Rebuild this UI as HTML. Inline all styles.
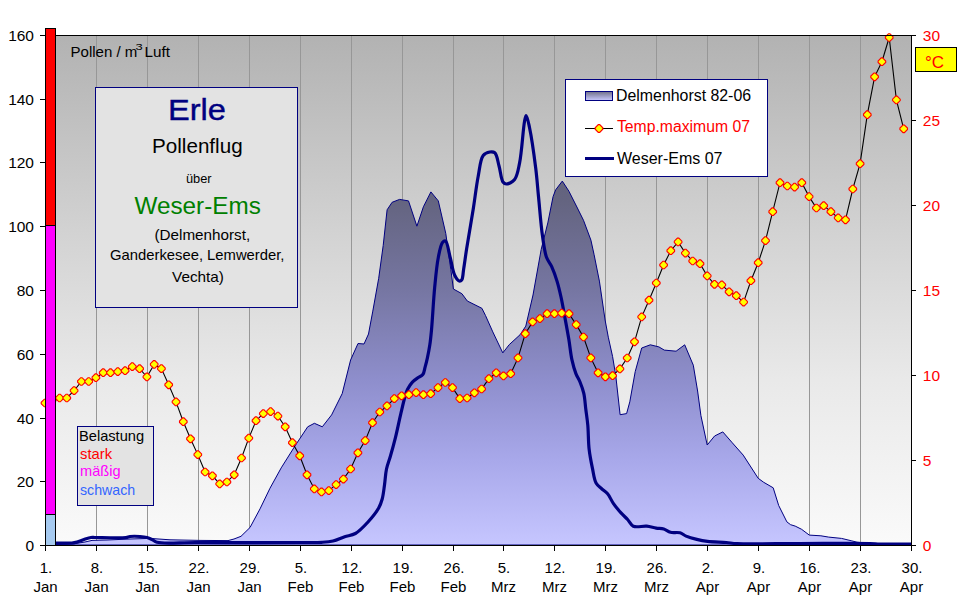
<!DOCTYPE html>
<html><head><meta charset="utf-8"><style>
html,body{margin:0;padding:0;background:#fff;width:970px;height:604px;overflow:hidden}
svg{display:block}
text{font-family:"Liberation Sans",sans-serif}
</style></head><body>
<svg width="970" height="604" viewBox="0 0 970 604" shape-rendering="crispEdges">
<defs>
<linearGradient id="bg" gradientUnits="userSpaceOnUse" x1="0" y1="35" x2="0" y2="545">
<stop offset="0" stop-color="#b2b2b2"/><stop offset="0.382" stop-color="#d2d2d2"/><stop offset="0.676" stop-color="#e9e9e9"/><stop offset="1" stop-color="#fafafa"/></linearGradient>
<linearGradient id="ar" gradientUnits="userSpaceOnUse" x1="0" y1="35" x2="0" y2="545">
<stop offset="0" stop-color="#585868"/><stop offset="0.3235" stop-color="#646480"/><stop offset="0.5" stop-color="#7676a2"/><stop offset="0.676" stop-color="#8e8ecc"/><stop offset="0.833" stop-color="#a8a8ea"/><stop offset="1" stop-color="#c6c6ff"/></linearGradient>
<linearGradient id="sw" x1="0" y1="0" x2="0" y2="1">
<stop offset="0" stop-color="#707088"/><stop offset="1" stop-color="#c8c8ff"/></linearGradient>
</defs>

<rect x="45" y="35" width="866" height="510" fill="url(#bg)"/>
<rect x="96" y="36" width="1" height="509" fill="#979797"/>
<rect x="147" y="36" width="1" height="509" fill="#979797"/>
<rect x="198" y="36" width="1" height="509" fill="#979797"/>
<rect x="249" y="36" width="1" height="509" fill="#979797"/>
<rect x="300" y="36" width="1" height="509" fill="#979797"/>
<rect x="351" y="36" width="1" height="509" fill="#979797"/>
<rect x="402" y="36" width="1" height="509" fill="#979797"/>
<rect x="453" y="36" width="1" height="509" fill="#979797"/>
<rect x="503" y="36" width="1" height="509" fill="#979797"/>
<rect x="554" y="36" width="1" height="509" fill="#979797"/>
<rect x="605" y="36" width="1" height="509" fill="#979797"/>
<rect x="656" y="36" width="1" height="509" fill="#979797"/>
<rect x="707" y="36" width="1" height="509" fill="#979797"/>
<rect x="758" y="36" width="1" height="509" fill="#979797"/>
<rect x="809" y="36" width="1" height="509" fill="#979797"/>
<rect x="860" y="36" width="1" height="509" fill="#979797"/>
<polygon points="45.0,545.0 56.0,544.5 73.0,544.0 85.0,542.0 92.0,540.4 107.0,540.0 130.0,539.0 150.0,538.4 170.0,539.8 200.0,540.4 228.0,540.6 234.0,539.0 241.0,536.3 250.0,527.5 260.0,508.9 270.0,488.2 281.2,467.9 294.5,446.7 307.7,426.8 314.4,423.3 322.3,426.8 331.6,414.9 342.2,393.6 350.6,360.0 358.0,343.5 364.0,344.0 368.5,334.0 372.8,311.1 378.7,278.3 383.2,245.5 387.1,209.8 392.1,202.3 399.6,199.4 408.5,200.9 416.9,226.2 423.4,206.8 430.9,191.9 438.3,200.9 445.8,233.6 450.8,269.4 453.4,289.0 461.9,293.7 467.3,301.0 481.9,308.3 485.5,315.5 492.8,331.9 502.8,352.9 509.2,344.7 520.1,334.7 525.8,326.1 533.0,295.0 541.2,249.4 547.8,222.9 553.1,196.5 555.7,189.8 562.3,181.1 568.9,191.2 576.9,207.0 583.5,220.3 590.9,240.1 594.1,254.7 599.4,281.1 605.1,320.0 608.3,337.2 612.6,356.6 615.8,376.0 620.1,414.7 626.6,413.6 629.8,401.8 635.2,371.7 641.7,348.0 650.3,344.8 658.9,346.9 664.3,350.1 676.1,351.2 684.7,344.8 693.3,365.2 697.6,391.0 700.9,415.5 707.2,445.0 714.6,436.0 722.8,431.9 732.3,442.8 743.2,455.1 758.2,478.3 763.7,482.3 773.2,487.8 778.7,505.5 786.9,521.9 790.6,524.7 795.2,526.1 801.6,529.3 809.3,535.1 820.9,535.8 828.7,537.1 841.5,538.4 851.9,540.9 857.0,542.2 870.0,543.5 890.0,544.0 911.0,545.0 911,545 45,545" fill="url(#ar)" stroke="#000080" stroke-width="1" shape-rendering="geometricPrecision"/>
<rect x="95.5" y="87.5" width="202" height="220" fill="#e3e3e3" stroke="#000080" stroke-width="1"/>
<text x="168.00" y="119.80" font-size="30" stroke="#000080" stroke-width="0.4" fill="#000080" textLength="57.96" lengthAdjust="spacingAndGlyphs">Erle</text>
<text x="152.00" y="152.90" font-size="20.5" fill="#000" textLength="90.65" lengthAdjust="spacingAndGlyphs">Pollenflug</text>
<text x="186.00" y="183.00" font-size="12" fill="#000" textLength="25.63" lengthAdjust="spacingAndGlyphs">über</text>
<text x="134.50" y="213.60" font-size="23.5" fill="#008000" textLength="126.30" lengthAdjust="spacingAndGlyphs">Weser-Ems</text>
<text x="154.50" y="240.00" font-size="14.5" fill="#000" textLength="95.66" lengthAdjust="spacingAndGlyphs">(Delmenhorst,</text>
<text x="110.00" y="259.70" font-size="14.5" fill="#000" textLength="174.48" lengthAdjust="spacingAndGlyphs">Ganderkesee, Lemwerder,</text>
<text x="172.00" y="281.70" font-size="14.5" fill="#000" textLength="51.97" lengthAdjust="spacingAndGlyphs">Vechta)</text>
<text x="70.50" y="56.80" font-size="14.5" fill="#000" textLength="66.88" lengthAdjust="spacingAndGlyphs">Pollen / m</text>
<text x="135.50" y="49.80" font-size="9" fill="#000" textLength="7.22" lengthAdjust="spacingAndGlyphs">3</text>
<text x="144.50" y="56.80" font-size="14.5" fill="#000" textLength="25.39" lengthAdjust="spacingAndGlyphs">Luft</text>
<rect x="77.5" y="426.5" width="76" height="79" fill="#e3e3e3" stroke="#000080" stroke-width="1"/>
<text x="79.00" y="440.80" font-size="14.5" fill="#000" textLength="65.10" lengthAdjust="spacingAndGlyphs">Belastung</text>
<text x="80.00" y="458.80" font-size="14.5" fill="#ff0000" textLength="32.02" lengthAdjust="spacingAndGlyphs">stark</text>
<text x="80.00" y="476.30" font-size="14.5" fill="#ff00ff" textLength="40.50" lengthAdjust="spacingAndGlyphs">mäßig</text>
<text x="80.00" y="494.50" font-size="14.5" fill="#3366ff" textLength="55.22" lengthAdjust="spacingAndGlyphs">schwach</text>
<rect x="565.5" y="79.5" width="202" height="97" fill="#fff" stroke="#000080" stroke-width="1"/>
<rect x="585.5" y="91.5" width="27" height="9" fill="url(#sw)" stroke="#000080" stroke-width="1"/>
<text x="616.00" y="100.70" font-size="16" fill="#000" textLength="135.08" lengthAdjust="spacingAndGlyphs">Delmenhorst 82-06</text>
<rect x="585" y="128" width="28" height="1" fill="#000"/>
<g fill="#ffff00" stroke="#ff0000" stroke-width="1.2" shape-rendering="geometricPrecision"><polygon points="598.3,124.7 599.7,124.7 602.8,127.8 602.8,129.2 599.7,132.3 598.3,132.3 595.2,129.2 595.2,127.8"/></g>
<text x="617.00" y="132.30" font-size="16" fill="#ff0000" textLength="132.96" lengthAdjust="spacingAndGlyphs">Temp.maximum 07</text>
<rect x="585" y="156.5" width="29" height="3" fill="#000080"/>
<text x="617.00" y="163.80" font-size="16" fill="#000" textLength="105.52" lengthAdjust="spacingAndGlyphs">Weser-Ems 07</text>
<path d="M45.0,543.0 C48.67,543.00 51.99,543.00 56.00,543.00 C60.84,543.00 68.19,543.38 72.00,543.00 C74.15,542.79 75.21,542.50 77.00,542.00 C79.16,541.40 81.65,540.25 84.00,539.50 C86.32,538.75 88.97,537.78 91.00,537.50 C92.50,537.29 93.04,537.50 95.00,537.50 C100.46,537.50 120.56,538.17 126.00,537.50 C127.98,537.26 128.35,536.70 130.00,536.50 C132.57,536.18 136.97,536.28 140.00,536.50 C142.55,536.68 144.89,536.94 147.00,537.50 C148.84,537.99 150.36,538.72 152.00,539.50 C153.69,540.31 154.41,541.62 157.00,542.30 C163.75,544.08 179.87,542.46 196.00,542.50 C222.33,542.57 278.16,542.60 300.00,542.50 C310.05,542.45 315.93,542.68 322.00,542.30 C326.30,542.03 329.33,541.86 333.00,541.00 C336.89,540.08 340.87,538.08 344.70,536.80 C348.33,535.59 351.91,535.50 355.40,533.50 C359.71,531.03 364.14,526.21 368.00,522.00 C371.92,517.72 376.28,512.31 378.70,508.00 C380.49,504.81 381.27,502.38 382.20,499.00 C383.32,494.90 383.80,489.83 384.50,485.00 C385.24,479.85 385.44,473.96 386.50,469.00 C387.45,464.53 388.97,461.12 390.30,456.50 C391.94,450.80 393.81,444.11 395.50,437.30 C397.39,429.65 399.25,420.19 401.00,412.80 C402.46,406.66 403.87,400.35 405.20,396.00 C406.06,393.17 406.56,391.34 407.70,389.10 C408.92,386.70 410.58,384.07 412.40,382.10 C414.11,380.25 416.34,378.81 418.20,377.50 C419.79,376.37 421.67,376.07 422.80,374.60 C424.15,372.83 424.37,369.74 425.10,367.10 C425.91,364.18 426.67,361.15 427.40,357.80 C428.25,353.91 429.13,349.53 429.80,345.10 C430.52,340.30 430.91,336.32 431.50,330.00 C432.49,319.37 433.43,300.15 434.70,287.20 C435.76,276.38 436.67,265.67 438.30,257.50 C439.48,251.60 440.58,244.82 442.50,242.50 C443.39,241.42 444.59,240.60 445.50,241.00 C447.55,241.90 448.69,251.88 450.20,257.50 C451.76,263.31 452.66,271.15 454.70,275.30 C455.99,277.91 457.78,280.62 459.20,281.00 C460.06,281.23 461.04,280.81 461.70,280.00 C463.02,278.38 462.93,273.51 463.60,269.40 C464.53,263.71 465.36,256.91 466.60,249.00 C468.33,237.94 471.19,221.94 473.20,209.30 C475.03,197.77 476.30,185.91 478.20,176.20 C479.72,168.46 480.25,159.30 483.20,155.50 C484.95,153.25 487.70,152.35 489.80,152.00 C491.53,151.71 493.44,151.63 494.80,152.80 C497.07,154.75 497.77,161.53 499.10,166.20 C500.53,171.23 501.03,179.36 503.00,182.00 C503.97,183.30 505.01,183.98 506.40,184.00 C508.53,184.03 512.51,182.09 514.60,179.50 C517.45,175.98 518.17,169.77 519.60,162.90 C521.84,152.18 523.09,128.40 524.60,121.00 C525.16,118.27 525.58,115.50 526.20,115.50 C527.11,115.51 528.39,122.28 529.50,127.50 C531.52,136.98 534.15,155.66 535.70,168.00 C537.00,178.31 537.48,186.22 538.50,196.50 C539.71,208.62 540.89,224.97 542.50,236.10 C543.68,244.29 544.50,251.79 546.50,257.30 C547.90,261.17 550.09,263.08 551.70,266.60 C553.64,270.83 555.47,276.11 557.00,281.10 C558.58,286.24 559.75,291.31 561.00,297.00 C562.44,303.52 563.69,311.01 565.00,318.10 C566.33,325.28 567.73,332.72 568.90,339.80 C570.02,346.57 570.59,353.70 571.90,359.70 C573.01,364.79 574.38,369.67 575.90,373.60 C577.09,376.66 578.58,378.55 579.80,381.50 C581.25,385.02 582.82,389.09 583.80,393.40 C584.91,398.27 585.13,404.00 585.80,409.30 C586.47,414.60 587.27,419.36 587.80,425.20 C588.44,432.33 588.25,441.53 589.10,449.00 C589.86,455.74 591.14,462.12 592.40,468.10 C593.54,473.48 594.13,479.64 596.20,483.30 C597.69,485.92 599.96,487.22 601.90,489.00 C603.76,490.71 605.85,491.75 607.60,493.80 C609.73,496.30 611.14,500.20 613.30,503.30 C615.58,506.57 618.45,510.06 621.00,512.90 C623.22,515.37 625.52,517.25 627.60,519.50 C629.62,521.69 630.63,524.97 633.30,526.20 C636.59,527.72 642.63,525.80 646.70,526.20 C650.16,526.54 653.20,527.62 656.20,528.10 C658.87,528.52 661.40,528.29 663.80,529.00 C666.17,529.70 668.00,531.65 670.50,532.30 C673.32,533.04 677.26,532.03 680.00,532.80 C682.34,533.46 683.73,535.10 686.10,536.10 C689.12,537.37 693.21,538.51 696.80,539.40 C700.34,540.27 703.42,540.90 707.50,541.40 C712.87,542.06 720.91,542.07 726.30,542.50 C730.37,542.83 731.94,543.34 737.00,543.60 C749.25,544.22 778.45,543.52 800.00,543.50 C822.72,543.48 857.20,543.18 870.00,543.50 C874.84,543.62 875.75,543.89 880.00,544.00 C887.48,544.19 900.67,544.00 911.00,544.00" fill="none" stroke="#000080" stroke-width="3.2" stroke-linejoin="round" shape-rendering="geometricPrecision"/>
<polyline points="45.0,403.0 52.3,400.0 59.6,398.0 66.8,398.0 74.1,390.6 81.4,381.5 88.7,381.5 95.9,377.7 103.2,372.7 110.5,372.7 117.8,371.6 125.1,370.7 132.3,366.6 139.6,368.7 146.9,376.9 154.2,364.4 161.4,368.6 168.7,384.8 176.0,401.9 183.3,421.7 190.5,438.8 197.8,454.6 205.1,472.0 212.4,475.8 219.7,483.9 226.9,482.0 234.2,474.8 241.5,458.0 248.8,438.1 256.0,420.7 263.3,413.6 270.6,411.6 277.9,416.1 285.2,426.8 292.4,442.7 299.7,455.8 307.0,474.8 314.3,488.9 321.5,491.9 328.8,490.6 336.1,484.6 343.4,479.1 350.6,469.0 357.9,452.8 365.2,440.6 372.5,422.7 379.8,412.0 387.0,405.9 394.3,398.6 401.6,395.8 408.9,394.7 416.1,392.6 423.4,394.7 430.7,393.7 438.0,387.6 445.3,382.5 452.5,387.6 459.8,398.6 467.1,398.0 474.4,392.8 481.6,389.0 488.9,378.7 496.2,372.8 503.5,375.9 510.7,373.7 518.0,357.9 525.3,333.7 532.6,321.9 539.9,318.6 547.1,313.7 554.4,313.7 561.7,313.1 569.0,313.7 576.2,324.6 583.5,337.0 590.8,357.9 598.1,372.8 605.4,376.8 612.6,375.7 619.9,368.9 627.2,358.0 634.5,341.8 641.7,316.9 649.0,300.2 656.3,283.0 663.6,265.0 670.8,250.7 678.1,241.9 685.4,253.1 692.7,261.0 700.0,263.7 707.2,275.9 714.5,284.3 721.8,284.9 729.1,291.8 736.3,295.7 743.6,302.1 750.9,280.7 758.2,262.7 765.5,240.6 772.7,211.7 780.0,182.7 787.3,186.0 794.6,187.1 801.8,182.7 809.1,196.6 816.4,208.0 823.7,205.7 830.9,211.7 838.2,217.9 845.5,219.8 852.8,189.0 860.1,163.7 867.3,114.7 874.6,76.8 881.9,61.7 889.2,37.5 896.4,99.9 903.7,128.8" fill="none" stroke="#000" stroke-width="1.1" shape-rendering="geometricPrecision"/>
<g fill="#ffff00" stroke="#ff0000" stroke-width="1.1" shape-rendering="geometricPrecision"><polygon points="44.3,399.2 45.7,399.2 48.8,402.3 48.8,403.7 45.7,406.8 44.3,406.8 41.2,403.7 41.2,402.3"/><polygon points="51.6,396.2 53.0,396.2 56.1,399.3 56.1,400.7 53.0,403.8 51.6,403.8 48.5,400.7 48.5,399.3"/><polygon points="58.9,394.2 60.3,394.2 63.4,397.3 63.4,398.7 60.3,401.8 58.9,401.8 55.8,398.7 55.8,397.3"/><polygon points="66.1,394.2 67.5,394.2 70.6,397.3 70.6,398.7 67.5,401.8 66.1,401.8 63.0,398.7 63.0,397.3"/><polygon points="73.4,386.8 74.8,386.8 77.9,389.9 77.9,391.3 74.8,394.4 73.4,394.4 70.3,391.3 70.3,389.9"/><polygon points="80.7,377.7 82.1,377.7 85.2,380.8 85.2,382.2 82.1,385.3 80.7,385.3 77.6,382.2 77.6,380.8"/><polygon points="88.0,377.7 89.4,377.7 92.5,380.8 92.5,382.2 89.4,385.3 88.0,385.3 84.9,382.2 84.9,380.8"/><polygon points="95.2,373.9 96.6,373.9 99.7,377.0 99.7,378.4 96.6,381.5 95.2,381.5 92.1,378.4 92.1,377.0"/><polygon points="102.5,368.9 103.9,368.9 107.0,372.0 107.0,373.4 103.9,376.5 102.5,376.5 99.4,373.4 99.4,372.0"/><polygon points="109.8,368.9 111.2,368.9 114.3,372.0 114.3,373.4 111.2,376.5 109.8,376.5 106.7,373.4 106.7,372.0"/><polygon points="117.1,367.8 118.5,367.8 121.6,370.9 121.6,372.3 118.5,375.4 117.1,375.4 114.0,372.3 114.0,370.9"/><polygon points="124.4,366.9 125.8,366.9 128.9,370.0 128.9,371.4 125.8,374.5 124.4,374.5 121.3,371.4 121.3,370.0"/><polygon points="131.6,362.8 133.0,362.8 136.1,365.9 136.1,367.3 133.0,370.4 131.6,370.4 128.5,367.3 128.5,365.9"/><polygon points="138.9,364.9 140.3,364.9 143.4,368.0 143.4,369.4 140.3,372.5 138.9,372.5 135.8,369.4 135.8,368.0"/><polygon points="146.2,373.1 147.6,373.1 150.7,376.2 150.7,377.6 147.6,380.7 146.2,380.7 143.1,377.6 143.1,376.2"/><polygon points="153.5,360.6 154.9,360.6 158.0,363.7 158.0,365.1 154.9,368.2 153.5,368.2 150.4,365.1 150.4,363.7"/><polygon points="160.7,364.8 162.1,364.8 165.2,367.9 165.2,369.3 162.1,372.4 160.7,372.4 157.6,369.3 157.6,367.9"/><polygon points="168.0,381.0 169.4,381.0 172.5,384.1 172.5,385.5 169.4,388.6 168.0,388.6 164.9,385.5 164.9,384.1"/><polygon points="175.3,398.1 176.7,398.1 179.8,401.2 179.8,402.6 176.7,405.7 175.3,405.7 172.2,402.6 172.2,401.2"/><polygon points="182.6,417.9 184.0,417.9 187.1,421.0 187.1,422.4 184.0,425.5 182.6,425.5 179.5,422.4 179.5,421.0"/><polygon points="189.8,435.0 191.2,435.0 194.3,438.1 194.3,439.5 191.2,442.6 189.8,442.6 186.7,439.5 186.7,438.1"/><polygon points="197.1,450.8 198.5,450.8 201.6,453.9 201.6,455.3 198.5,458.4 197.1,458.4 194.0,455.3 194.0,453.9"/><polygon points="204.4,468.2 205.8,468.2 208.9,471.3 208.9,472.7 205.8,475.8 204.4,475.8 201.3,472.7 201.3,471.3"/><polygon points="211.7,472.0 213.1,472.0 216.2,475.1 216.2,476.5 213.1,479.6 211.7,479.6 208.6,476.5 208.6,475.1"/><polygon points="219.0,480.1 220.4,480.1 223.5,483.2 223.5,484.6 220.4,487.7 219.0,487.7 215.9,484.6 215.9,483.2"/><polygon points="226.2,478.2 227.6,478.2 230.7,481.3 230.7,482.7 227.6,485.8 226.2,485.8 223.1,482.7 223.1,481.3"/><polygon points="233.5,471.0 234.9,471.0 238.0,474.1 238.0,475.5 234.9,478.6 233.5,478.6 230.4,475.5 230.4,474.1"/><polygon points="240.8,454.2 242.2,454.2 245.3,457.3 245.3,458.7 242.2,461.8 240.8,461.8 237.7,458.7 237.7,457.3"/><polygon points="248.1,434.3 249.5,434.3 252.6,437.4 252.6,438.8 249.5,441.9 248.1,441.9 245.0,438.8 245.0,437.4"/><polygon points="255.3,416.9 256.7,416.9 259.8,420.0 259.8,421.4 256.7,424.5 255.3,424.5 252.2,421.4 252.2,420.0"/><polygon points="262.6,409.8 264.0,409.8 267.1,412.9 267.1,414.3 264.0,417.4 262.6,417.4 259.5,414.3 259.5,412.9"/><polygon points="269.9,407.8 271.3,407.8 274.4,410.9 274.4,412.3 271.3,415.4 269.9,415.4 266.8,412.3 266.8,410.9"/><polygon points="277.2,412.3 278.6,412.3 281.7,415.4 281.7,416.8 278.6,419.9 277.2,419.9 274.1,416.8 274.1,415.4"/><polygon points="284.5,423.0 285.9,423.0 289.0,426.1 289.0,427.5 285.9,430.6 284.5,430.6 281.4,427.5 281.4,426.1"/><polygon points="291.7,438.9 293.1,438.9 296.2,442.0 296.2,443.4 293.1,446.5 291.7,446.5 288.6,443.4 288.6,442.0"/><polygon points="299.0,452.0 300.4,452.0 303.5,455.1 303.5,456.5 300.4,459.6 299.0,459.6 295.9,456.5 295.9,455.1"/><polygon points="306.3,471.0 307.7,471.0 310.8,474.1 310.8,475.5 307.7,478.6 306.3,478.6 303.2,475.5 303.2,474.1"/><polygon points="313.6,485.1 315.0,485.1 318.1,488.2 318.1,489.6 315.0,492.7 313.6,492.7 310.5,489.6 310.5,488.2"/><polygon points="320.8,488.1 322.2,488.1 325.3,491.2 325.3,492.6 322.2,495.7 320.8,495.7 317.7,492.6 317.7,491.2"/><polygon points="328.1,486.8 329.5,486.8 332.6,489.9 332.6,491.3 329.5,494.4 328.1,494.4 325.0,491.3 325.0,489.9"/><polygon points="335.4,480.8 336.8,480.8 339.9,483.9 339.9,485.3 336.8,488.4 335.4,488.4 332.3,485.3 332.3,483.9"/><polygon points="342.7,475.3 344.1,475.3 347.2,478.4 347.2,479.8 344.1,482.9 342.7,482.9 339.6,479.8 339.6,478.4"/><polygon points="349.9,465.2 351.3,465.2 354.4,468.3 354.4,469.7 351.3,472.8 349.9,472.8 346.8,469.7 346.8,468.3"/><polygon points="357.2,449.0 358.6,449.0 361.7,452.1 361.7,453.5 358.6,456.6 357.2,456.6 354.1,453.5 354.1,452.1"/><polygon points="364.5,436.8 365.9,436.8 369.0,439.9 369.0,441.3 365.9,444.4 364.5,444.4 361.4,441.3 361.4,439.9"/><polygon points="371.8,418.9 373.2,418.9 376.3,422.0 376.3,423.4 373.2,426.5 371.8,426.5 368.7,423.4 368.7,422.0"/><polygon points="379.1,408.2 380.5,408.2 383.6,411.3 383.6,412.7 380.5,415.8 379.1,415.8 376.0,412.7 376.0,411.3"/><polygon points="386.3,402.1 387.7,402.1 390.8,405.2 390.8,406.6 387.7,409.7 386.3,409.7 383.2,406.6 383.2,405.2"/><polygon points="393.6,394.8 395.0,394.8 398.1,397.9 398.1,399.3 395.0,402.4 393.6,402.4 390.5,399.3 390.5,397.9"/><polygon points="400.9,392.0 402.3,392.0 405.4,395.1 405.4,396.5 402.3,399.6 400.9,399.6 397.8,396.5 397.8,395.1"/><polygon points="408.2,390.9 409.6,390.9 412.7,394.0 412.7,395.4 409.6,398.5 408.2,398.5 405.1,395.4 405.1,394.0"/><polygon points="415.4,388.8 416.8,388.8 419.9,391.9 419.9,393.3 416.8,396.4 415.4,396.4 412.3,393.3 412.3,391.9"/><polygon points="422.7,390.9 424.1,390.9 427.2,394.0 427.2,395.4 424.1,398.5 422.7,398.5 419.6,395.4 419.6,394.0"/><polygon points="430.0,389.9 431.4,389.9 434.5,393.0 434.5,394.4 431.4,397.5 430.0,397.5 426.9,394.4 426.9,393.0"/><polygon points="437.3,383.8 438.7,383.8 441.8,386.9 441.8,388.3 438.7,391.4 437.3,391.4 434.2,388.3 434.2,386.9"/><polygon points="444.6,378.7 446.0,378.7 449.1,381.8 449.1,383.2 446.0,386.3 444.6,386.3 441.5,383.2 441.5,381.8"/><polygon points="451.8,383.8 453.2,383.8 456.3,386.9 456.3,388.3 453.2,391.4 451.8,391.4 448.7,388.3 448.7,386.9"/><polygon points="459.1,394.8 460.5,394.8 463.6,397.9 463.6,399.3 460.5,402.4 459.1,402.4 456.0,399.3 456.0,397.9"/><polygon points="466.4,394.2 467.8,394.2 470.9,397.3 470.9,398.7 467.8,401.8 466.4,401.8 463.3,398.7 463.3,397.3"/><polygon points="473.7,389.0 475.1,389.0 478.2,392.1 478.2,393.5 475.1,396.6 473.7,396.6 470.6,393.5 470.6,392.1"/><polygon points="480.9,385.2 482.3,385.2 485.4,388.3 485.4,389.7 482.3,392.8 480.9,392.8 477.8,389.7 477.8,388.3"/><polygon points="488.2,374.9 489.6,374.9 492.7,378.0 492.7,379.4 489.6,382.5 488.2,382.5 485.1,379.4 485.1,378.0"/><polygon points="495.5,369.0 496.9,369.0 500.0,372.1 500.0,373.5 496.9,376.6 495.5,376.6 492.4,373.5 492.4,372.1"/><polygon points="502.8,372.1 504.2,372.1 507.3,375.2 507.3,376.6 504.2,379.7 502.8,379.7 499.7,376.6 499.7,375.2"/><polygon points="510.0,369.9 511.4,369.9 514.5,373.0 514.5,374.4 511.4,377.5 510.0,377.5 506.9,374.4 506.9,373.0"/><polygon points="517.3,354.1 518.7,354.1 521.8,357.2 521.8,358.6 518.7,361.7 517.3,361.7 514.2,358.6 514.2,357.2"/><polygon points="524.6,329.9 526.0,329.9 529.1,333.0 529.1,334.4 526.0,337.5 524.6,337.5 521.5,334.4 521.5,333.0"/><polygon points="531.9,318.1 533.3,318.1 536.4,321.2 536.4,322.6 533.3,325.7 531.9,325.7 528.8,322.6 528.8,321.2"/><polygon points="539.2,314.8 540.6,314.8 543.7,317.9 543.7,319.3 540.6,322.4 539.2,322.4 536.1,319.3 536.1,317.9"/><polygon points="546.4,309.9 547.8,309.9 550.9,313.0 550.9,314.4 547.8,317.5 546.4,317.5 543.3,314.4 543.3,313.0"/><polygon points="553.7,309.9 555.1,309.9 558.2,313.0 558.2,314.4 555.1,317.5 553.7,317.5 550.6,314.4 550.6,313.0"/><polygon points="561.0,309.3 562.4,309.3 565.5,312.4 565.5,313.8 562.4,316.9 561.0,316.9 557.9,313.8 557.9,312.4"/><polygon points="568.3,309.9 569.7,309.9 572.8,313.0 572.8,314.4 569.7,317.5 568.3,317.5 565.2,314.4 565.2,313.0"/><polygon points="575.5,320.8 576.9,320.8 580.0,323.9 580.0,325.3 576.9,328.4 575.5,328.4 572.4,325.3 572.4,323.9"/><polygon points="582.8,333.2 584.2,333.2 587.3,336.3 587.3,337.7 584.2,340.8 582.8,340.8 579.7,337.7 579.7,336.3"/><polygon points="590.1,354.1 591.5,354.1 594.6,357.2 594.6,358.6 591.5,361.7 590.1,361.7 587.0,358.6 587.0,357.2"/><polygon points="597.4,369.0 598.8,369.0 601.9,372.1 601.9,373.5 598.8,376.6 597.4,376.6 594.3,373.5 594.3,372.1"/><polygon points="604.7,373.0 606.1,373.0 609.2,376.1 609.2,377.5 606.1,380.6 604.7,380.6 601.6,377.5 601.6,376.1"/><polygon points="611.9,371.9 613.3,371.9 616.4,375.0 616.4,376.4 613.3,379.5 611.9,379.5 608.8,376.4 608.8,375.0"/><polygon points="619.2,365.1 620.6,365.1 623.7,368.2 623.7,369.6 620.6,372.7 619.2,372.7 616.1,369.6 616.1,368.2"/><polygon points="626.5,354.2 627.9,354.2 631.0,357.3 631.0,358.7 627.9,361.8 626.5,361.8 623.4,358.7 623.4,357.3"/><polygon points="633.8,338.0 635.2,338.0 638.3,341.1 638.3,342.5 635.2,345.6 633.8,345.6 630.7,342.5 630.7,341.1"/><polygon points="641.0,313.1 642.4,313.1 645.5,316.2 645.5,317.6 642.4,320.7 641.0,320.7 637.9,317.6 637.9,316.2"/><polygon points="648.3,296.4 649.7,296.4 652.8,299.5 652.8,300.9 649.7,304.0 648.3,304.0 645.2,300.9 645.2,299.5"/><polygon points="655.6,279.2 657.0,279.2 660.1,282.3 660.1,283.7 657.0,286.8 655.6,286.8 652.5,283.7 652.5,282.3"/><polygon points="662.9,261.2 664.3,261.2 667.4,264.3 667.4,265.7 664.3,268.8 662.9,268.8 659.8,265.7 659.8,264.3"/><polygon points="670.1,246.9 671.5,246.9 674.6,250.0 674.6,251.4 671.5,254.5 670.1,254.5 667.0,251.4 667.0,250.0"/><polygon points="677.4,238.1 678.8,238.1 681.9,241.2 681.9,242.6 678.8,245.7 677.4,245.7 674.3,242.6 674.3,241.2"/><polygon points="684.7,249.3 686.1,249.3 689.2,252.4 689.2,253.8 686.1,256.9 684.7,256.9 681.6,253.8 681.6,252.4"/><polygon points="692.0,257.2 693.4,257.2 696.5,260.3 696.5,261.7 693.4,264.8 692.0,264.8 688.9,261.7 688.9,260.3"/><polygon points="699.3,259.9 700.7,259.9 703.8,263.0 703.8,264.4 700.7,267.5 699.3,267.5 696.2,264.4 696.2,263.0"/><polygon points="706.5,272.1 707.9,272.1 711.0,275.2 711.0,276.6 707.9,279.7 706.5,279.7 703.4,276.6 703.4,275.2"/><polygon points="713.8,280.5 715.2,280.5 718.3,283.6 718.3,285.0 715.2,288.1 713.8,288.1 710.7,285.0 710.7,283.6"/><polygon points="721.1,281.1 722.5,281.1 725.6,284.2 725.6,285.6 722.5,288.7 721.1,288.7 718.0,285.6 718.0,284.2"/><polygon points="728.4,288.0 729.8,288.0 732.9,291.1 732.9,292.5 729.8,295.6 728.4,295.6 725.3,292.5 725.3,291.1"/><polygon points="735.6,291.9 737.0,291.9 740.1,295.0 740.1,296.4 737.0,299.5 735.6,299.5 732.5,296.4 732.5,295.0"/><polygon points="742.9,298.3 744.3,298.3 747.4,301.4 747.4,302.8 744.3,305.9 742.9,305.9 739.8,302.8 739.8,301.4"/><polygon points="750.2,276.9 751.6,276.9 754.7,280.0 754.7,281.4 751.6,284.5 750.2,284.5 747.1,281.4 747.1,280.0"/><polygon points="757.5,258.9 758.9,258.9 762.0,262.0 762.0,263.4 758.9,266.5 757.5,266.5 754.4,263.4 754.4,262.0"/><polygon points="764.8,236.8 766.2,236.8 769.3,239.9 769.3,241.3 766.2,244.4 764.8,244.4 761.7,241.3 761.7,239.9"/><polygon points="772.0,207.9 773.4,207.9 776.5,211.0 776.5,212.4 773.4,215.5 772.0,215.5 768.9,212.4 768.9,211.0"/><polygon points="779.3,178.9 780.7,178.9 783.8,182.0 783.8,183.4 780.7,186.5 779.3,186.5 776.2,183.4 776.2,182.0"/><polygon points="786.6,182.2 788.0,182.2 791.1,185.3 791.1,186.7 788.0,189.8 786.6,189.8 783.5,186.7 783.5,185.3"/><polygon points="793.9,183.3 795.3,183.3 798.4,186.4 798.4,187.8 795.3,190.9 793.9,190.9 790.8,187.8 790.8,186.4"/><polygon points="801.1,178.9 802.5,178.9 805.6,182.0 805.6,183.4 802.5,186.5 801.1,186.5 798.0,183.4 798.0,182.0"/><polygon points="808.4,192.8 809.8,192.8 812.9,195.9 812.9,197.3 809.8,200.4 808.4,200.4 805.3,197.3 805.3,195.9"/><polygon points="815.7,204.2 817.1,204.2 820.2,207.3 820.2,208.7 817.1,211.8 815.7,211.8 812.6,208.7 812.6,207.3"/><polygon points="823.0,201.9 824.4,201.9 827.5,205.0 827.5,206.4 824.4,209.5 823.0,209.5 819.9,206.4 819.9,205.0"/><polygon points="830.2,207.9 831.6,207.9 834.7,211.0 834.7,212.4 831.6,215.5 830.2,215.5 827.1,212.4 827.1,211.0"/><polygon points="837.5,214.1 838.9,214.1 842.0,217.2 842.0,218.6 838.9,221.7 837.5,221.7 834.4,218.6 834.4,217.2"/><polygon points="844.8,216.0 846.2,216.0 849.3,219.1 849.3,220.5 846.2,223.6 844.8,223.6 841.7,220.5 841.7,219.1"/><polygon points="852.1,185.2 853.5,185.2 856.6,188.3 856.6,189.7 853.5,192.8 852.1,192.8 849.0,189.7 849.0,188.3"/><polygon points="859.4,159.9 860.8,159.9 863.9,163.0 863.9,164.4 860.8,167.5 859.4,167.5 856.3,164.4 856.3,163.0"/><polygon points="866.6,110.9 868.0,110.9 871.1,114.0 871.1,115.4 868.0,118.5 866.6,118.5 863.5,115.4 863.5,114.0"/><polygon points="873.9,73.0 875.3,73.0 878.4,76.1 878.4,77.5 875.3,80.6 873.9,80.6 870.8,77.5 870.8,76.1"/><polygon points="881.2,57.9 882.6,57.9 885.7,61.0 885.7,62.4 882.6,65.5 881.2,65.5 878.1,62.4 878.1,61.0"/><polygon points="888.5,33.7 889.9,33.7 893.0,36.8 893.0,38.2 889.9,41.3 888.5,41.3 885.4,38.2 885.4,36.8"/><polygon points="895.7,96.1 897.1,96.1 900.2,99.2 900.2,100.6 897.1,103.7 895.7,103.7 892.6,100.6 892.6,99.2"/><polygon points="903.0,125.0 904.4,125.0 907.5,128.1 907.5,129.5 904.4,132.6 903.0,132.6 899.9,129.5 899.9,128.1"/></g>
<rect x="45" y="35" width="867" height="1" fill="#000"/>
<rect x="911" y="35" width="1" height="511" fill="#000"/>
<rect x="40" y="545" width="872" height="1" fill="#000"/>
<rect x="40" y="545" width="5" height="1" fill="#000"/>
<text x="34" y="550.7" text-anchor="end" font-size="15.5" fill="#000">0</text>
<rect x="40" y="481" width="5" height="1" fill="#000"/>
<text x="34" y="486.7" text-anchor="end" font-size="15.5" fill="#000">20</text>
<rect x="40" y="418" width="5" height="1" fill="#000"/>
<text x="34" y="423.7" text-anchor="end" font-size="15.5" fill="#000">40</text>
<rect x="40" y="354" width="5" height="1" fill="#000"/>
<text x="34" y="359.7" text-anchor="end" font-size="15.5" fill="#000">60</text>
<rect x="40" y="290" width="5" height="1" fill="#000"/>
<text x="34" y="295.7" text-anchor="end" font-size="15.5" fill="#000">80</text>
<rect x="40" y="226" width="5" height="1" fill="#000"/>
<text x="34" y="231.7" text-anchor="end" font-size="15.5" fill="#000">100</text>
<rect x="40" y="162" width="5" height="1" fill="#000"/>
<text x="34" y="167.7" text-anchor="end" font-size="15.5" fill="#000">120</text>
<rect x="40" y="99" width="5" height="1" fill="#000"/>
<text x="34" y="104.7" text-anchor="end" font-size="15.5" fill="#000">140</text>
<rect x="40" y="35" width="5" height="1" fill="#000"/>
<text x="34" y="40.7" text-anchor="end" font-size="15.5" fill="#000">160</text>
<rect x="912" y="545" width="4" height="1" fill="#ff0000"/>
<rect x="912" y="545" width="4" height="1" fill="#000"/>
<text x="922.8" y="550.7" font-size="15.5" fill="#ff0000">0</text>
<rect x="912" y="460" width="4" height="1" fill="#ff0000"/>
<rect x="912" y="460" width="4" height="1" fill="#000"/>
<text x="922.8" y="465.7" font-size="15.5" fill="#ff0000">5</text>
<rect x="912" y="375" width="4" height="1" fill="#ff0000"/>
<rect x="912" y="375" width="4" height="1" fill="#000"/>
<text x="922.8" y="380.7" font-size="15.5" fill="#ff0000">10</text>
<rect x="912" y="290" width="4" height="1" fill="#ff0000"/>
<rect x="912" y="290" width="4" height="1" fill="#000"/>
<text x="922.8" y="295.7" font-size="15.5" fill="#ff0000">15</text>
<rect x="912" y="205" width="4" height="1" fill="#ff0000"/>
<rect x="912" y="205" width="4" height="1" fill="#000"/>
<text x="922.8" y="210.7" font-size="15.5" fill="#ff0000">20</text>
<rect x="912" y="120" width="4" height="1" fill="#ff0000"/>
<rect x="912" y="120" width="4" height="1" fill="#000"/>
<text x="922.8" y="125.7" font-size="15.5" fill="#ff0000">25</text>
<rect x="912" y="35" width="4" height="1" fill="#ff0000"/>
<rect x="912" y="35" width="4" height="1" fill="#000"/>
<text x="922.8" y="40.7" font-size="15.5" fill="#ff0000">30</text>
<rect x="45" y="545" width="1" height="6" fill="#000"/>
<text x="46.0" y="573" text-anchor="middle" font-size="15" fill="#000">1.</text>
<text x="45.5" y="592" text-anchor="middle" font-size="15" fill="#000">Jan</text>
<rect x="96" y="545" width="1" height="6" fill="#000"/>
<text x="97.0" y="573" text-anchor="middle" font-size="15" fill="#000">8.</text>
<text x="96.5" y="592" text-anchor="middle" font-size="15" fill="#000">Jan</text>
<rect x="147" y="545" width="1" height="6" fill="#000"/>
<text x="148.0" y="573" text-anchor="middle" font-size="15" fill="#000">15.</text>
<text x="147.5" y="592" text-anchor="middle" font-size="15" fill="#000">Jan</text>
<rect x="198" y="545" width="1" height="6" fill="#000"/>
<text x="199.0" y="573" text-anchor="middle" font-size="15" fill="#000">22.</text>
<text x="198.5" y="592" text-anchor="middle" font-size="15" fill="#000">Jan</text>
<rect x="249" y="545" width="1" height="6" fill="#000"/>
<text x="250.0" y="573" text-anchor="middle" font-size="15" fill="#000">29.</text>
<text x="249.5" y="592" text-anchor="middle" font-size="15" fill="#000">Jan</text>
<rect x="300" y="545" width="1" height="6" fill="#000"/>
<text x="301.0" y="573" text-anchor="middle" font-size="15" fill="#000">5.</text>
<text x="300.5" y="592" text-anchor="middle" font-size="15" fill="#000">Feb</text>
<rect x="351" y="545" width="1" height="6" fill="#000"/>
<text x="352.0" y="573" text-anchor="middle" font-size="15" fill="#000">12.</text>
<text x="351.5" y="592" text-anchor="middle" font-size="15" fill="#000">Feb</text>
<rect x="402" y="545" width="1" height="6" fill="#000"/>
<text x="403.0" y="573" text-anchor="middle" font-size="15" fill="#000">19.</text>
<text x="402.5" y="592" text-anchor="middle" font-size="15" fill="#000">Feb</text>
<rect x="453" y="545" width="1" height="6" fill="#000"/>
<text x="454.0" y="573" text-anchor="middle" font-size="15" fill="#000">26.</text>
<text x="453.5" y="592" text-anchor="middle" font-size="15" fill="#000">Feb</text>
<rect x="503" y="545" width="1" height="6" fill="#000"/>
<text x="504.0" y="573" text-anchor="middle" font-size="15" fill="#000">5.</text>
<text x="503.5" y="592" text-anchor="middle" font-size="15" fill="#000">Mrz</text>
<rect x="554" y="545" width="1" height="6" fill="#000"/>
<text x="555.0" y="573" text-anchor="middle" font-size="15" fill="#000">12.</text>
<text x="554.5" y="592" text-anchor="middle" font-size="15" fill="#000">Mrz</text>
<rect x="605" y="545" width="1" height="6" fill="#000"/>
<text x="606.0" y="573" text-anchor="middle" font-size="15" fill="#000">19.</text>
<text x="605.5" y="592" text-anchor="middle" font-size="15" fill="#000">Mrz</text>
<rect x="656" y="545" width="1" height="6" fill="#000"/>
<text x="657.0" y="573" text-anchor="middle" font-size="15" fill="#000">26.</text>
<text x="656.5" y="592" text-anchor="middle" font-size="15" fill="#000">Mrz</text>
<rect x="707" y="545" width="1" height="6" fill="#000"/>
<text x="708.0" y="573" text-anchor="middle" font-size="15" fill="#000">2.</text>
<text x="707.5" y="592" text-anchor="middle" font-size="15" fill="#000">Apr</text>
<rect x="758" y="545" width="1" height="6" fill="#000"/>
<text x="759.0" y="573" text-anchor="middle" font-size="15" fill="#000">9.</text>
<text x="758.5" y="592" text-anchor="middle" font-size="15" fill="#000">Apr</text>
<rect x="809" y="545" width="1" height="6" fill="#000"/>
<text x="810.0" y="573" text-anchor="middle" font-size="15" fill="#000">16.</text>
<text x="809.5" y="592" text-anchor="middle" font-size="15" fill="#000">Apr</text>
<rect x="860" y="545" width="1" height="6" fill="#000"/>
<text x="861.0" y="573" text-anchor="middle" font-size="15" fill="#000">23.</text>
<text x="860.5" y="592" text-anchor="middle" font-size="15" fill="#000">Apr</text>
<rect x="911" y="545" width="1" height="6" fill="#000"/>
<text x="912.0" y="573" text-anchor="middle" font-size="15" fill="#000">30.</text>
<text x="911.5" y="592" text-anchor="middle" font-size="15" fill="#000">Apr</text>
<rect x="45.5" y="28.5" width="10" height="517" fill="none" stroke="#000" stroke-width="1"/>
<rect x="46" y="29" width="9" height="196" fill="#ff0000"/>
<rect x="46" y="225" width="9" height="1" fill="#000"/>
<rect x="46" y="226" width="9" height="288" fill="#ff00ff"/>
<rect x="46" y="514" width="9" height="1" fill="#000"/>
<rect x="46" y="515" width="9" height="30" fill="#a6caf0"/>
<rect x="915.5" y="47.5" width="41" height="24" fill="#ffff00" stroke="#000" stroke-width="1"/>
<text x="925" y="67.8" font-size="17" fill="#ff0000">°C</text>
</svg></body></html>
